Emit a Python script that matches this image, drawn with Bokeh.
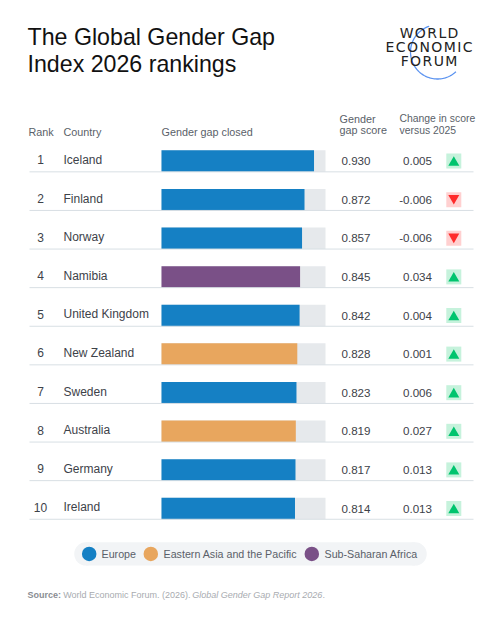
import numpy as np
from bokeh.plotting import figure
from bokeh.models import Range1d
from bokeh.core.properties import value
from bokeh.embed import file_html
from bokeh.resources import INLINE

ranks = [1, 2, 3, 4, 5, 6, 7, 8, 9, 10]
countries = ["Iceland", "Finland", "Norway", "Namibia", "United Kingdom",
             "New Zealand", "Sweden", "Australia", "Germany", "Ireland"]
scores = [0.930, 0.872, 0.857, 0.845, 0.842, 0.828, 0.823, 0.819, 0.817, 0.814]
changes = [0.005, -0.006, -0.006, 0.034, 0.004, 0.001, 0.006, 0.027, 0.013, 0.013]
regions = ["Europe", "Europe", "Europe", "Sub-Saharan Africa", "Europe",
           "Eastern Asia and the Pacific", "Europe", "Eastern Asia and the Pacific",
           "Europe", "Europe"]
region_names = ["Europe", "Eastern Asia and the Pacific", "Sub-Saharan Africa"]
region_colors = {"Europe": "#1580c4", "Eastern Asia and the Pacific": "#e8a65e",
                 "Sub-Saharan Africa": "#7a5087"}

W, H = 484, 609
BAR_X0, BAR_W = 161, 164
ROW0, ROW_STEP = 160.6, 38.6
FONT = value("Liberation Sans")
LOGO_FONT = value("DejaVu Sans")
DARK, GREY = "#3d4249", "#5a5f69"

def xv(px):
    return (px - BAR_X0) / BAR_W

def yv(py):
    return 1 + (py - ROW0) / ROW_STEP

p = figure(width=W, height=H, output_backend="svg", toolbar_location=None,
           x_range=Range1d(xv(0), xv(W)), y_range=Range1d(yv(H), yv(0)),
           min_border=0, outline_line_color=None, background_fill_color="white")
p.axis.visible = False
p.grid.visible = False

def txt(px, py, s, size, color=DARK, align="left", style="normal"):
    p.text([xv(px)], [yv(py)], text=[s], text_font=FONT, text_font_size=f"{size}px",
           text_color=color, text_align=align, text_baseline="middle", text_font_style=style)

# title and logo
txt(27, 36, "The Global Gender Gap", 23.2, "#111111")
txt(27, 63, "Index 2026 rankings", 23.2, "#111111")
t = np.radians(np.linspace(108, 313, 80))
p.line(xv(437 + 27 * np.cos(t)), yv(51.5 - 27 * np.sin(t)), line_color="#5b93f0", line_width=1.3)
hs = "\u200a"
for py, word in [(32.5, "WORLD"), (46.7, "ECONOMIC"), (60, "FORUM")]:
    p.text([xv(428.5)], [yv(py)], text=[hs.join(word)], text_font=LOGO_FONT, text_font_size="14px",
           text_color="#222222", text_align="center", text_baseline="middle")

# headers
HEAD = 10.8
txt(28, 131.5, "Rank", HEAD, GREY)
txt(63, 131.5, "Country", HEAD, GREY)
txt(161, 131.5, "Gender gap closed", HEAD, GREY)
txt(339, 118, "Gender", HEAD, GREY)
txt(339, 129.5, "gap score", HEAD, GREY)
txt(399, 118, "Change in score", 10.4, GREY)
txt(399, 129.5, "versus 2025", 10.4, GREY)

# rows
r = np.array(ranks, dtype=float)
s = np.array(scores)
bar_h = 21.5 / ROW_STEP
p.hbar(y=r, left=0, right=1, height=bar_h, fill_color="#e6e9ec", line_color=None)
p.hbar(y=r, left=0, right=s, height=bar_h, fill_color=[region_colors[g] for g in regions], line_color=None)
line_y = r + bar_h / 2
for ly in line_y:
    p.line([xv(29), xv(473)], [ly, ly], line_color="#d8dfe4", line_width=1)

p.text(x=[xv(40)] * 10, y=r - 1.2 / ROW_STEP, text=[str(v) for v in ranks], text_font=FONT,
       text_font_size="12px", text_color=DARK, text_align="center", text_baseline="middle")
p.text(x=[xv(63)] * 10, y=r - 1.2 / ROW_STEP, text=countries, text_font=FONT,
       text_font_size="12px", text_color=DARK, text_align="left", text_baseline="middle")
p.text(x=[xv(341)] * 10, y=r, text=[f"{v:.3f}" for v in scores], text_font=FONT,
       text_font_size="11.6px", text_color=DARK, text_align="left", text_baseline="middle")
p.text(x=[xv(431.5)] * 10, y=r, text=[f"{v:.3f}" for v in changes], text_font=FONT,
       text_font_size="11.6px", text_color=DARK, text_align="right", text_baseline="middle")

ups = [c >= 0 for c in changes]
xm = [xv(453.3)] * 10
p.scatter(x=xm, y=r, size=15, marker="square",
          fill_color=["#c6f2dc" if u else "#ffd0d0" for u in ups], line_color=None)
p.scatter(x=xm, y=r + np.array([1.5 if u else -1.5 for u in ups]) / ROW_STEP, size=11,
          marker=["triangle" if u else "inverted_triangle" for u in ups],
          fill_color=["#00c46e" if u else "#ff2b2b" for u in ups], line_color=None)

# legend
ly = 553.4
p.hbar(y=[yv(ly)], left=[xv(85.4)], right=[xv(414.6)], height=23.3 / ROW_STEP, fill_color="#f2f4f6", line_color=None)
p.scatter(x=[xv(85.4), xv(414.6)], y=[yv(ly)] * 2, size=23.3, fill_color="#f2f4f6", line_color=None)
for cx, tx, name in zip([88.7, 150.3, 311.3], [101, 163, 324], region_names):
    p.scatter(x=[xv(cx)], y=[yv(ly)], size=14.5, fill_color=region_colors[name], line_color=None)
    txt(tx, ly, name, 10.7, GREY)

# source
txt(27, 594.5, "Source:", 9, "#8a8d93", style="bold")
txt(62.7, 594.5, "World Economic Forum. (2026).", 9, "#a8abb0")
txt(191.7, 594.5, "Global Gender Gap Report 2026", 9, "#a8abb0", style="italic")
txt(322, 594.5, ".", 9, "#a8abb0")

open("out.html", "w").write(file_html(p, INLINE))
